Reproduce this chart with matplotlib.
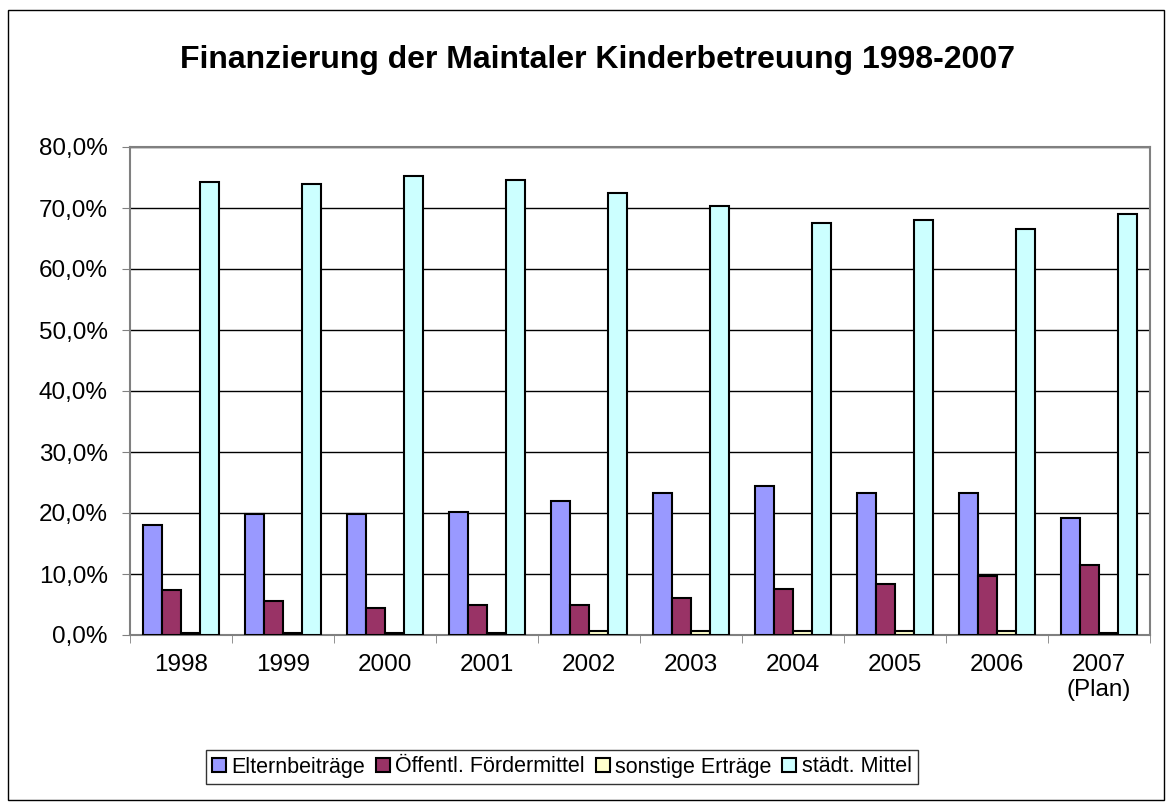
import numpy as np
import matplotlib
matplotlib.use('Agg')
import matplotlib.pyplot as plt
from matplotlib.patches import Rectangle
from matplotlib.ticker import FuncFormatter, MultipleLocator, FixedLocator

plt.rcParams['font.family'] = ['Liberation Sans', 'DejaVu Sans']

years = ['1998', '1999', '2000', '2001', '2002', '2003', '2004', '2005', '2006', '2007\n(Plan)']
eltern = [18.1, 19.8, 19.8, 20.2, 21.9, 23.3, 24.4, 23.3, 23.3, 19.1]
foerder = [7.4, 5.6, 4.5, 4.9, 4.9, 6.0, 7.6, 8.3, 9.7, 11.5]
sonstige = [0.4, 0.4, 0.4, 0.4, 0.7, 0.7, 0.7, 0.7, 0.7, 0.4]
staedt = [74.2, 73.9, 75.3, 74.6, 72.5, 70.3, 67.6, 68.0, 66.6, 69.0]

series = [('Elternbeiträge', eltern, '#9999FF'),
          ('Öffentl. Fördermittel', foerder, '#993366'),
          ('sonstige Erträge', sonstige, '#FFFFCC'),
          ('städt. Mittel', staedt, '#CCFFFF')]

W, H = 1172, 806
fig = plt.figure(figsize=(W/100, H/100), dpi=100)
fig.patches.append(Rectangle((8/W, 1-800/H), 1156/W, 790/H, transform=fig.transFigure,
                             fill=False, edgecolor='black', linewidth=1))

ax = fig.add_axes([130/W, 1-635/H, 1020/W, 488/H])
x = np.arange(len(years))
bw = 0.185
for i, (name, vals, col) in enumerate(series):
    ax.bar(x + (i-1.5)*bw, vals, bw, color=col, edgecolor='black', linewidth=1.5,
           label=name, zorder=3)

ax.set_xlim(-0.5, len(years)-0.5)
ax.set_ylim(0, 80)
ax.yaxis.set_major_locator(MultipleLocator(10))
ax.yaxis.set_major_formatter(FuncFormatter(lambda v, p: f'{v:.1f}'.replace('.', ',') + '%'))
ax.grid(axis='y', color='black', linewidth=1, zorder=0)
ax.set_xticks(x)
ax.set_xticklabels(years, linespacing=1.15)
ax.xaxis.set_minor_locator(FixedLocator(np.arange(-0.5, len(years), 1)))
ax.tick_params(axis='x', which='major', length=0, pad=14, labelsize=17.5)
ax.tick_params(axis='x', which='minor', length=6, direction='out', color='#808080')
ax.tick_params(axis='y', length=6, direction='out', pad=10, labelsize=17.5, color='#808080')
for s in ax.spines.values():
    s.set_color('#808080')
    s.set_linewidth(1.5)

fig.text(597/W, 1-60/H, 'Finanzierung der Maintaler Kinderbetreuung 1998-2007',
         ha='center', va='center', fontsize=23, fontweight='bold')

leg = fig.legend(loc='center', bbox_to_anchor=(562/W, 1-767/H), ncol=4, fontsize=15.5,
                 frameon=True, fancybox=False, edgecolor='black', handlelength=0.65,
                 handleheight=0.65, handletextpad=0.25, columnspacing=0.5, borderpad=0.3)
leg.get_frame().set_linewidth(1)

fig.savefig('out.png', dpi=100)
